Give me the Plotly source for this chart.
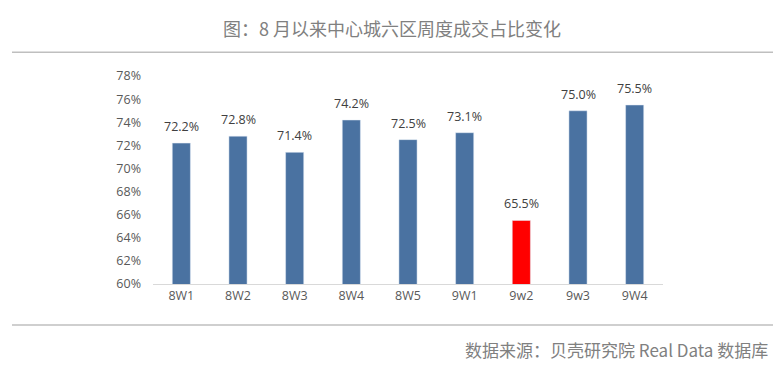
import plotly.graph_objects as go

categories = ["8W1", "8W2", "8W3", "8W4", "8W5", "9W1", "9w2", "9w3", "9W4"]
values = [72.2, 72.8, 71.4, 74.2, 72.5, 73.1, 65.5, 75.0, 75.5]
bar_colors = ["#4A72A1"] * 6 + ["#FF0000"] + ["#4A72A1"] * 2
tick_vals = [60, 62, 64, 66, 68, 70, 72, 74, 76, 78]
tick_text = [f"{v}%" for v in tick_vals]
labels = [f"{v:.1f}%" for v in values]

OFF = 8  # default page body margin
W, H = 784 - 2 * OFF, 382 - 2 * OFF  # so page is exactly 784x382


def px(x):
    return (x - OFF) / W


def py(y):
    return 1 - (y - OFF) / H


fig = go.Figure(go.Bar(
    x=categories, y=values, marker_color=bar_colors, width=0.32,
))

fig.update_layout(
    width=W, height=H, margin=dict(l=0, r=0, t=0, b=0),
    plot_bgcolor="white", paper_bgcolor="white", showlegend=False,
    xaxis=dict(domain=[px(153), px(663)], showline=True, linecolor="#D9D9D9", linewidth=1,
               tickfont=dict(size=12.5, color="#595959", family="Open Sans"), ticks=""),
    yaxis=dict(domain=[py(288), py(70)], range=[60, 78], tickvals=tick_vals,
               ticktext=tick_text, showgrid=False, zeroline=False, ticks="",
               ticklabelstandoff=11,
               tickfont=dict(size=12.5, color="#595959", family="Open Sans")),
    font=dict(family="Noto Sans CJK SC"),
)

for c, v, t in zip(categories, values, labels):
    fig.add_annotation(x=c, y=v, text=t, showarrow=False, yanchor="bottom", yshift=6,
                       font=dict(size=12.5, color="#404040", family="Open Sans"))

fig.add_annotation(text="图：8 月以来中心城六区周度成交占比变化", xref="paper", yref="paper",
                   x=px(392), y=py(20), showarrow=False, xanchor="center", yanchor="middle",
                   font=dict(size=18, color="#808080", family="Noto Sans CJK SC"))
fig.add_annotation(text="数据来源：贝壳研究院 Real Data 数据库", xref="paper", yref="paper",
                   x=px(770), y=py(357), showarrow=False, xanchor="right", yanchor="middle",
                   font=dict(size=17, color="#808080", family="Noto Sans CJK SC"))
for yy in (45, 331):
    fig.add_shape(type="line", xref="paper", yref="paper", x0=px(12), x1=px(773),
                  y0=py(yy), y1=py(yy), line=dict(color="#BFBFBF", width=1.5))

fig.write_html("out.html")
